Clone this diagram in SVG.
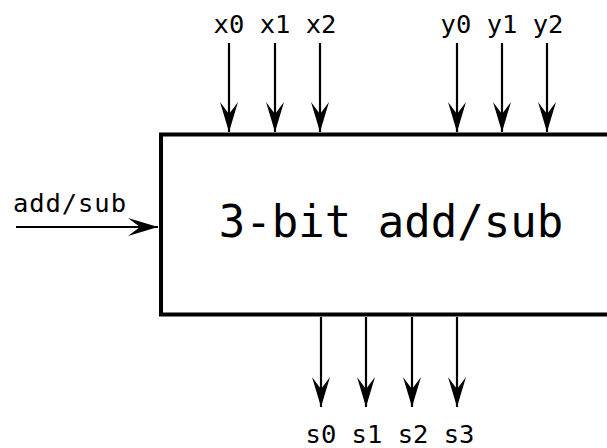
<svg xmlns="http://www.w3.org/2000/svg" width="607" height="448" viewBox="0 0 607 448">
  <style>
    .lbl { font-family: "DejaVu Sans Mono", "Liberation Mono", monospace; font-size: 25.5px; fill: #000; }
    .title { font-family: "DejaVu Sans Mono", "Liberation Mono", monospace; font-size: 44px; fill: #000; }
    .wire { stroke: #000; stroke-width: 2.2; fill: none; marker-end: url(#head); }
    .box { fill: #fff; stroke: #000; stroke-width: 4; }
  </style>
  <defs>
    <!-- concave-backed filled arrowhead, tip at the end of the line -->
    <marker id="head" viewBox="0 0 30 18" refX="30" refY="9" markerWidth="30" markerHeight="18" markerUnits="userSpaceOnUse" orient="auto">
      <path d="M0,0 L30,9 L0,18 L12,9 Z" fill="#000"/>
    </marker>
  </defs>
  <rect width="607" height="448" fill="#fff"/>

  <g id="connectors">
    <line class="wire" x1="229" y1="43" x2="229" y2="132"/>
    <line class="wire" x1="275" y1="43" x2="275" y2="132"/>
    <line class="wire" x1="320" y1="43" x2="320" y2="132"/>
    <line class="wire" x1="457" y1="43" x2="457" y2="132"/>
    <line class="wire" x1="502" y1="43" x2="502" y2="132"/>
    <line class="wire" x1="547" y1="43" x2="547" y2="132"/>
    <line class="wire" x1="16" y1="227" x2="158" y2="227"/>
    <line class="wire" x1="321" y1="317" x2="321" y2="407"/>
    <line class="wire" x1="366" y1="317" x2="366" y2="407"/>
    <line class="wire" x1="412" y1="317" x2="412" y2="407"/>
    <line class="wire" x1="457" y1="317" x2="457" y2="407"/>
  </g>

  <g id="adder">
    <rect class="box" x="161" y="134.5" width="470" height="180"/>
    <text class="title" x="391" y="237" text-anchor="middle">3-bit add/sub</text>
  </g>

  <g id="labels">
    <text class="lbl" x="275" y="33" text-anchor="middle">x0 x1 x2</text>
    <text class="lbl" x="502" y="33" text-anchor="middle">y0 y1 y2</text>
    <text class="lbl" x="13" y="212" textLength="113">add/sub</text>
    <text class="lbl" x="390" y="443" text-anchor="middle">s0 s1 s2 s3</text>
  </g>
</svg>
